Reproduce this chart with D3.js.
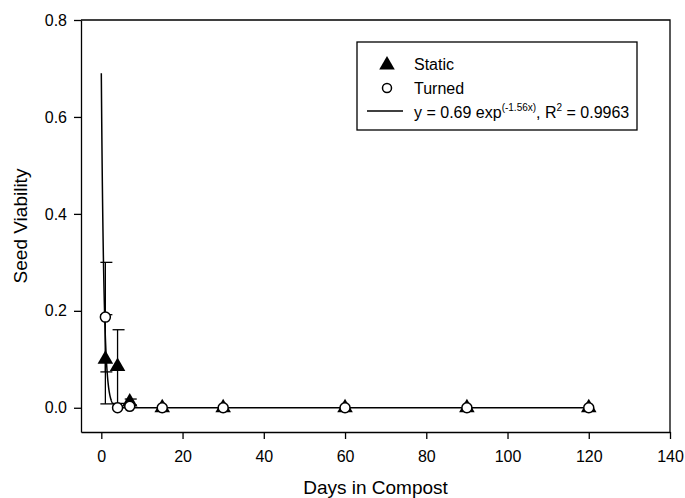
<!DOCTYPE html>
<html>
<head>
<meta charset="utf-8">
<script src="https://cdn.jsdelivr.net/npm/d3@7"></script>
<style>
  body { margin: 0; background: #fff; }
  svg { display: block; font-family: "Liberation Sans", Arial, sans-serif; }
</style>
</head>
<body>
<div id="chart"></div>
<script>
// Sampling days
const days = [1, 4, 7, 15, 30, 60, 90, 120];

// Static piles (filled triangles)
const staticViability = [0.10, 0.085, 0.012, 0, 0, 0, 0, 0];
const staticError = [0.092, 0.076, 0.006, 0, 0, 0, 0, 0];

// Turned piles (open circles)
const turnedViability = [0.187, 0, 0.003, 0, 0, 0, 0, 0];
const turnedError = [0.113, 0, 0, 0, 0, 0, 0, 0];

// Exponential fit y = a * exp(-k x)
const fitA = 0.69;
const fitK = 1.56;
const fitR2 = '0.9963';
const fitRange = [0, 120];

const xTicks = [0, 20, 40, 60, 80, 100, 120, 140];
const yTicks = [0, 0.2, 0.4, 0.6, 0.8];

const width = 685;
const height = 498;

const svg = d3.select('#chart')
  .append('svg')
  .attr('width', width)
  .attr('height', height);

// Scales
const x = d3.scaleLinear().domain([-5, 140]).range([81, 670]);
const y = d3.scaleLinear().domain([-0.05, 0.8]).range([432, 20]);

// Frame (top and right edges of the plot box)
svg.append('path')
  .attr('d', `M${x(-5)},${y(0.8)}H${x(140)}V${y(-0.05)}`)
  .attr('fill', 'none')
  .attr('stroke', '#000')
  .attr('stroke-width', 1.3);

// Axes
const xAxis = d3.axisBottom(x)
  .tickValues(xTicks)
  .tickSize(7)
  .tickPadding(12)
  .tickSizeOuter(0);

const yAxis = d3.axisLeft(y)
  .tickValues(yTicks)
  .tickSize(7)
  .tickPadding(7)
  .tickSizeOuter(0)
  .tickFormat(d3.format('.1f'));

const styleAxis = g => {
  g.select('.domain').attr('stroke', '#000').attr('stroke-width', 1.3);
  g.selectAll('.tick line').attr('stroke', '#000').attr('stroke-width', 1.3);
  g.selectAll('text').attr('fill', '#000').attr('font-size', '16px');
};

svg.append('g')
  .attr('transform', `translate(0,${y(-0.05)})`)
  .call(xAxis)
  .call(styleAxis);

svg.append('g')
  .attr('transform', `translate(${x(-5)},0)`)
  .call(yAxis)
  .call(styleAxis);

// Axis titles
svg.append('text')
  .attr('x', (x(-5) + x(140)) / 2)
  .attr('y', 494)
  .attr('text-anchor', 'middle')
  .attr('font-size', '19px')
  .text('Days in Compost');

svg.append('text')
  .attr('transform', 'translate(27,226) rotate(-90)')
  .attr('text-anchor', 'middle')
  .attr('font-size', '19px')
  .text('Seed Viability');

// Fitted curve
const fitPoints = d3.range(fitRange[0], fitRange[1] + 0.001, 0.05)
  .map(d => [d, fitA * Math.exp(-fitK * d)]);

svg.append('path')
  .datum(fitPoints)
  .attr('fill', 'none')
  .attr('stroke', '#000')
  .attr('stroke-width', 1.5)
  .attr('d', d3.line().x(d => x(d[0])).y(d => y(d[1])));

// Error bars
const drawErrors = (values, errors) => {
  const rows = days.map((d, i) => ({ day: d, v: values[i], e: errors[i] }))
    .filter(d => d.e > 0);
  const g = svg.append('g').attr('stroke', '#000').attr('stroke-width', 1.3);
  rows.forEach(d => {
    const cx = x(d.day);
    g.append('line')
      .attr('x1', cx).attr('x2', cx)
      .attr('y1', y(d.v - d.e)).attr('y2', y(d.v + d.e));
    [d.v - d.e, d.v + d.e].forEach(val => {
      g.append('line')
        .attr('x1', cx - 5).attr('x2', cx + 7)
        .attr('y1', y(val)).attr('y2', y(val));
    });
  });
};

drawErrors(staticViability, staticError);
drawErrors(turnedViability, turnedError);

// Markers
const triangle = d3.symbol().type(d3.symbolTriangle).size(105);

svg.append('g')
  .selectAll('path')
  .data(days.map((d, i) => [d, staticViability[i]]))
  .join('path')
  .attr('transform', d => `translate(${x(d[0])},${y(d[1])})`)
  .attr('d', triangle)
  .attr('fill', '#000');

svg.append('g')
  .selectAll('circle')
  .data(days.map((d, i) => [d, turnedViability[i]]))
  .join('circle')
  .attr('cx', d => x(d[0]))
  .attr('cy', d => y(d[1]))
  .attr('r', 5)
  .attr('fill', '#fff')
  .attr('stroke', '#000')
  .attr('stroke-width', 1.5);

// Legend
const legend = svg.append('g');

legend.append('rect')
  .attr('x', 357).attr('y', 42)
  .attr('width', 280).attr('height', 88)
  .attr('fill', '#fff')
  .attr('stroke', '#000')
  .attr('stroke-width', 1.3);

legend.append('path')
  .attr('transform', 'translate(387,65)')
  .attr('d', triangle)
  .attr('fill', '#000');

legend.append('text')
  .attr('x', 414).attr('y', 70)
  .attr('font-size', '16px')
  .text('Static');

legend.append('circle')
  .attr('cx', 387).attr('cy', 88)
  .attr('r', 4.5)
  .attr('fill', '#fff')
  .attr('stroke', '#000')
  .attr('stroke-width', 1.5);

legend.append('text')
  .attr('x', 414).attr('y', 94)
  .attr('font-size', '16px')
  .text('Turned');

legend.append('line')
  .attr('x1', 367).attr('x2', 403)
  .attr('y1', 111).attr('y2', 111)
  .attr('stroke', '#000')
  .attr('stroke-width', 1.5);

const eq = legend.append('text')
  .attr('x', 414).attr('y', 118)
  .attr('font-size', '16px');
eq.append('tspan').text(`y = ${fitA} exp`);
eq.append('tspan').attr('font-size', '10px').attr('dy', -7).text(`(-${fitK}x)`);
eq.append('tspan').attr('dy', 7).text(', R');
eq.append('tspan').attr('font-size', '10px').attr('dy', -7).text('2');
eq.append('tspan').attr('dy', 7).text(` = ${fitR2}`);
</script>
</body>
</html>
